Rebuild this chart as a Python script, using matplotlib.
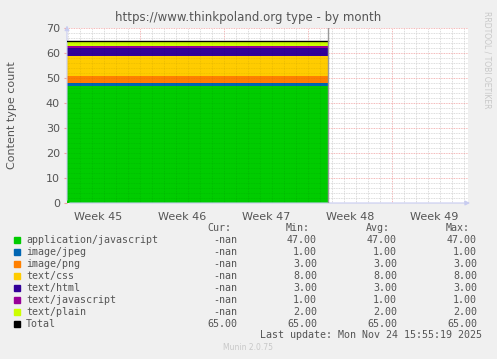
import matplotlib
matplotlib.use("Agg")
import matplotlib.pyplot as plt
from matplotlib.ticker import MultipleLocator

# days, 0 = start of week 46
t = [-6.1, 15.67]
names = ["application/javascript", "image/jpeg", "image/png", "text/css",
         "text/html", "text/javascript", "text/plain"]
colors = ["#00CC00", "#0066B3", "#FF8000", "#FFCC00", "#330099", "#990099", "#CCFF00"]
vals = [[47, 47], [1, 1], [3, 3], [8, 8], [3, 3], [1, 1], [2, 2]]
total = [65, 65]
cur = ["-nan"] * 7 + ["65.00"]
mins = [47.0, 1.0, 3.0, 8.0, 3.0, 1.0, 2.0, 65.0]
avgs = [47.0, 1.0, 3.0, 8.0, 3.0, 1.0, 2.0, 65.0]
maxs = [47.0, 1.0, 3.0, 8.0, 3.0, 1.0, 2.0, 65.0]
weeks = ["Week 45", "Week 46", "Week 47", "Week 48", "Week 49"]
week_centers = [-3.5, 3.5, 10.5, 17.5, 24.5]

W, H = 497, 359
fig = plt.figure(figsize=(W / 100, H / 100), dpi=100, facecolor="#F0F0F0")
ax = fig.add_axes([67 / W, 1 - 203 / H, 401 / W, 175 / H])
ax.set_facecolor("white")

ax.stackplot(t, vals, colors=colors, linewidth=0, zorder=2)
ax.plot(t, total, color="black", lw=1, zorder=4)
ax.axvline(t[-1], color="#999999", lw=1, zorder=4)

ax.set_xlim(-6.08, 27.33)
ax.set_ylim(0, 70)
ax.yaxis.set_major_locator(MultipleLocator(10))
ax.yaxis.set_minor_locator(MultipleLocator(2))
ax.set_xticks([0, 7, 14, 21])
ax.set_xticks(range(-6, 28), minor=True)
ax.grid(which="minor", color="#D0D0D0", ls=(0, (1, 1)), lw=0.6)
ax.grid(which="major", color="#F0A0A0", ls=(0, (1, 1)), lw=0.6)
ax.set_axisbelow(True)
# faint grid showing through the filled area
ax.vlines(range(-6, 16), 0, 65, colors="black", alpha=0.08, lw=0.6,
          linestyles=(0, (1, 1)), zorder=3)
ax.hlines(range(2, 65, 2), t[0], t[-1], colors="black", alpha=0.08, lw=0.6,
          linestyles=(0, (1, 1)), zorder=3)
ax.tick_params(axis="x", which="both", length=0, labelbottom=False)
ax.tick_params(axis="y", which="major", length=2, color="#F0A0A0", labelsize=8,
               labelcolor="#555555", pad=3)
ax.tick_params(axis="y", which="minor", length=0)
for x, w in zip(week_centers, weeks):
    ax.text(x, -3.6, w, ha="center", va="top", fontsize=8, color="#555555")
for s in ax.spines.values():
    s.set_visible(False)

# axis arrows
ax.annotate("", xy=(1.012, 0), xytext=(0, 0), xycoords="axes fraction",
            arrowprops=dict(arrowstyle="-|>", color="#C8CCF0", lw=0.8, mutation_scale=7))
ax.annotate("", xy=(0, 1.03), xytext=(0, 0), xycoords="axes fraction",
            arrowprops=dict(arrowstyle="-|>", color="#C8CCF0", lw=0.8, mutation_scale=7))

fig.text(248 / W, 1 - 18 / H, "https://www.thinkpoland.org type - by month",
         ha="center", va="center", fontsize=8.5, color="#555555")
fig.text(12 / W, 1 - 115 / H, "Content type count", rotation=90,
         ha="center", va="center", fontsize=8, color="#555555")
fig.text(487 / W, 1 - 60 / H, "RRDTOOL / TOBI OETIKER", rotation=270,
         ha="center", va="center", fontsize=5.5, color="#C8C8C8")

mono = dict(family="DejaVu Sans Mono", fontsize=7.2, color="#555555", va="center")
fig.text(231 / W, 1 - 228 / H, "Cur:", ha="right", **mono)
fig.text(310 / W, 1 - 228 / H, "Min:", ha="right", **mono)
fig.text(390 / W, 1 - 228 / H, "Avg:", ha="right", **mono)
fig.text(470 / W, 1 - 228 / H, "Max:", ha="right", **mono)
labels = names + ["Total"]
sq_colors = colors + ["black"]
for i in range(8):
    y = 1 - (240 + 12 * i) / H
    fig.patches.append(plt.Rectangle((14 / W, y - 3.2 / H), 6 / W, 6 / H,
                                     transform=fig.transFigure, color=sq_colors[i]))
    fig.text(26 / W, y, labels[i], ha="left", **mono)
    fig.text(237 / W, y, cur[i], ha="right", **mono)
    fig.text(317 / W, y, "%.2f" % mins[i], ha="right", **mono)
    fig.text(397 / W, y, "%.2f" % avgs[i], ha="right", **mono)
    fig.text(477 / W, y, "%.2f" % maxs[i], ha="right", **mono)
fig.text(482 / W, 1 - 335 / H, "Last update: Mon Nov 24 15:55:19 2025", ha="right", **mono)
fig.text(248 / W, 1 - 348 / H, "Munin 2.0.75", ha="center", va="center",
         fontsize=5.5, color="#C8C8C8")

fig.savefig("out.png", dpi=100, facecolor=fig.get_facecolor())
